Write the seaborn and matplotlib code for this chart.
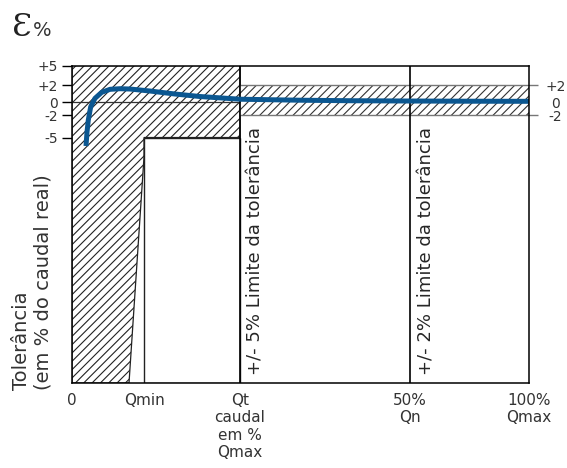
import numpy as np
import pandas as pd
import matplotlib.pyplot as plt
import seaborn as sns

sns.set_style('white')
plt.rcParams['font.family'] = ['DejaVu Sans']
plt.rcParams['hatch.linewidth'] = 0.8

# posições do diagrama (escala esquemática, não linear)
x_pos = [0, 72, 168, 338, 457]
x_labels = ['0', 'Qmin', 'Qt\ncaudal\nem %\nQmax', '50%\nQn', '100%\nQmax']
y_pos = [36.5, 17, 0, -13, -35.5]
y_labels = ['+5', '+2', '0', '-2', '-5']
y_dir_pos = [17, 0, -13]
y_dir_labels = ['+2', '0', '-2']
y_fundo = -281
q_min, q_t, q_n, q_max = 72, 168, 338, 457
q_min_base = 57     # pé da linha inclinada antes de Qmin
q_min_topo = -55    # onde a inclinada encontra a caixa

# curva do erro de medição
curva_x = [14, 15, 16.3, 18.7, 23, 29.7, 38, 48, 58, 78, 103, 128, 168, 228, 278, 338, 398, 457]
curva_y = [-44, -30, -18, -4.7, 3.7, 9.7, 12.7, 13.3, 13, 11, 8, 5.5, 2.8, 1.8, 1.3, 1.0, 0.8, 0.7]
df = pd.DataFrame({'caudal': curva_x, 'erro': curva_y})

fig = plt.figure(figsize=(5.67, 4.68), dpi=100)
ax = fig.add_axes([0.127, 0.1816, 0.806, 0.6784])

# zona tracejada da esquerda (+/- 5%)
poly_x = [0, q_t, q_t, q_min, q_min, q_min_base, 0]
poly_y = [y_pos[0], y_pos[0], y_pos[-1], y_pos[-1], q_min_topo, y_fundo, y_fundo]
ax.fill(poly_x, poly_y, facecolor='white', edgecolor='#222222', hatch='////', lw=0.9)

# caixa branca Qmin - Qt
ax.fill([q_min, q_t, q_t, q_min], [y_pos[-1], y_pos[-1], y_fundo, y_fundo],
        facecolor='white', edgecolor='#222222', lw=1.0)

# banda +/- 2%
ax.fill([q_t, q_max, q_max, q_t], [y_pos[1], y_pos[1], y_pos[3], y_pos[3]],
        facecolor='white', edgecolor='#333333', hatch='////', lw=0)
ax.hlines([y_pos[1], y_pos[3]], q_t, q_max + 9, color='#777777', lw=1.0, clip_on=False)
ax.hlines(0, 0, q_t, color='#333333', lw=0.9)

ax.axvline(q_t, color='black', lw=1.2)
ax.axvline(q_n, color='black', lw=1.2)

sns.lineplot(data=df, x='caudal', y='erro', color='#0b5791', lw=3.6,
             estimator=None, sort=False, ax=ax, solid_capstyle='butt')

ax.text(183, -273, '+/- 5% Limite da tolerância', rotation=90, ha='center', va='bottom', fontsize=13)
ax.text(354, -273, '+/- 2% Limite da tolerância', rotation=90, ha='center', va='bottom', fontsize=13)

ax.set_xlim(0, q_max)
ax.set_ylim(y_fundo, y_pos[0])
ax.set_xticks(x_pos, x_labels)
ax.set_yticks(y_pos, y_labels)
ax.tick_params(axis='x', length=0, pad=7, labelsize=11, colors='#333333')
ax.tick_params(axis='y', length=7, width=1, pad=3, labelsize=10, colors='#333333')
ax.tick_params(axis='y', color='black')
ax.set_xlabel('')
ax.set_ylabel('')
for s in ax.spines.values():
    s.set_color('black')
    s.set_linewidth(1.1)

ax2 = ax.twinx()
ax2.set_ylim(y_fundo, y_pos[0])
ax2.set_yticks(y_dir_pos, y_dir_labels)
ax2.tick_params(axis='y', length=0, pad=19, labelsize=10, colors='#333333')
for lab in ax2.get_yticklabels():
    lab.set_ha('center')
for s in ax2.spines.values():
    s.set_visible(False)

fig.text(0.021, 0.167, 'Tolerância\n(em % do caudal real)', rotation=90, ha='left', va='bottom',
         multialignment='left', fontsize=14, color='#333333')
fig.text(12 / 567, 1 - 36 / 468, 'Ɛ', fontsize=23, family='DejaVu Serif', va='baseline', color='#222222')
fig.text(33 / 567, 1 - 36 / 468, '%', fontsize=14, va='baseline', color='#333333')

fig.savefig('out.png', dpi=100)
